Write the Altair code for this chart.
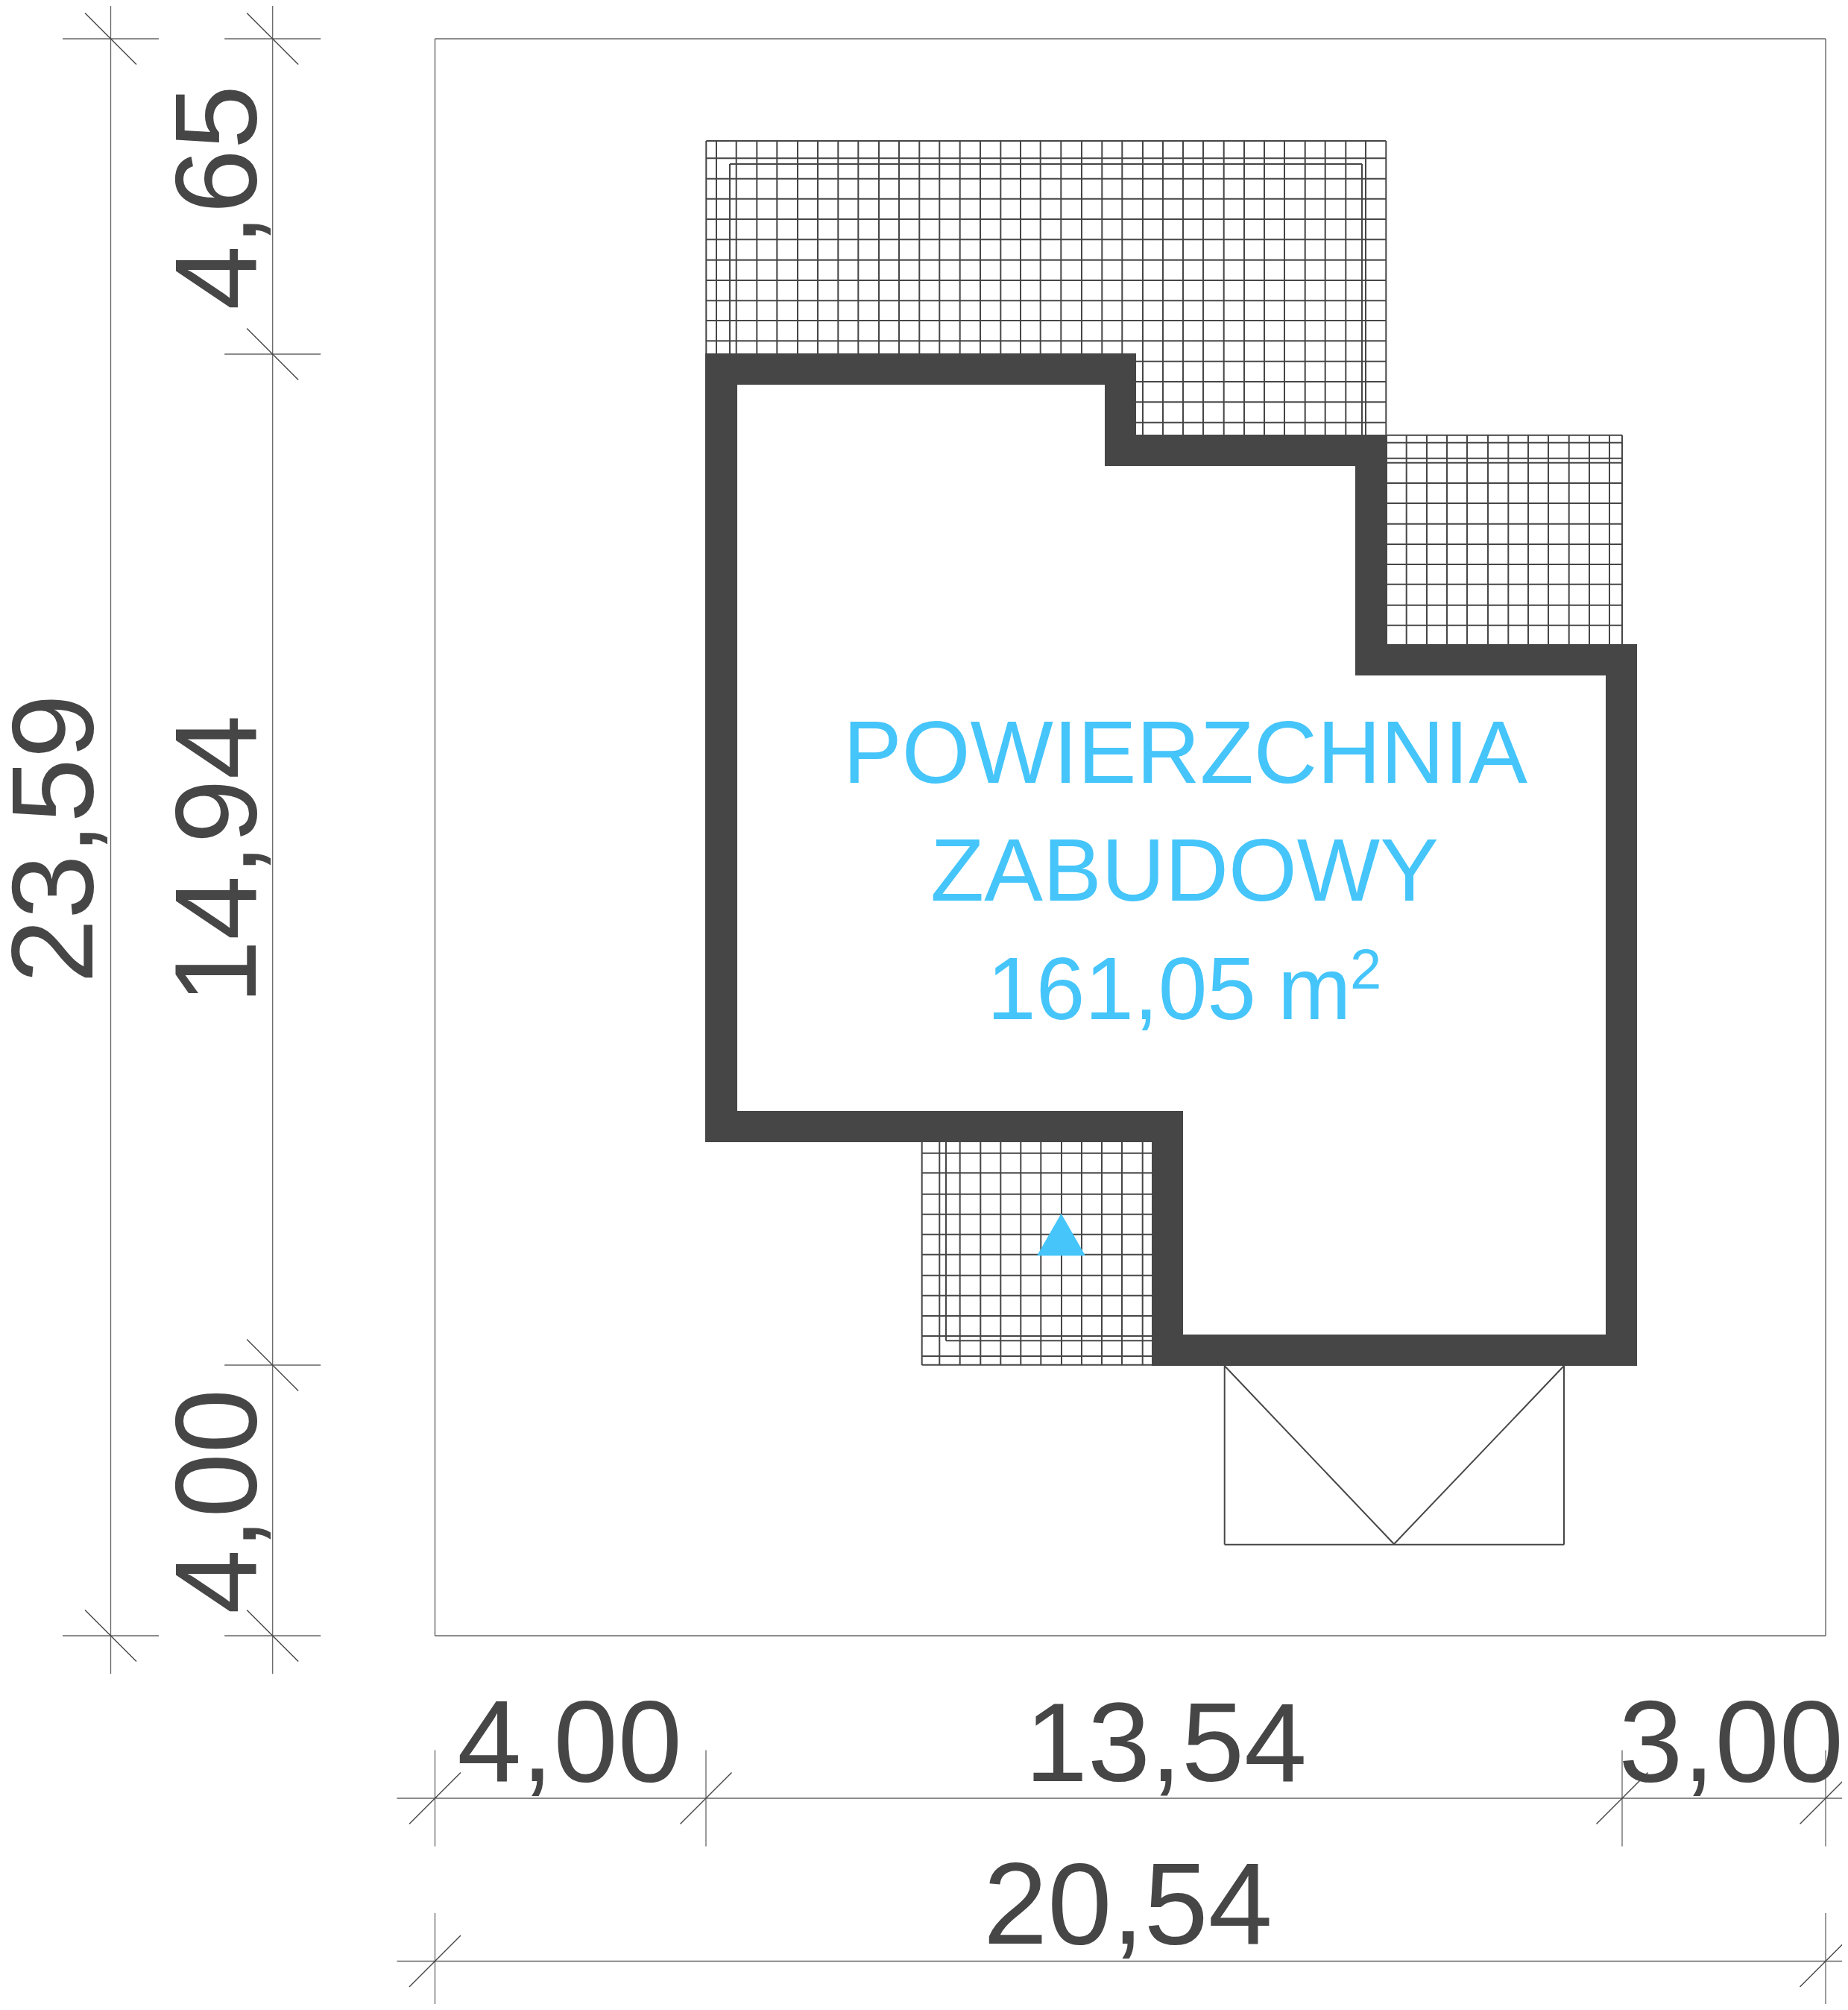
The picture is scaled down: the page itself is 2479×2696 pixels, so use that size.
import altair as alt
import pandas as pd

INK = "#464646"
THIN = "#666666"
BLUE = "#45c5fa"
FONT = "Liberation Sans"

# ---- drawing data, in the drawing's own units ----
upper_x_short = [947.3, 961, 987.7, 1015.3, 1042.3, 1070, 1097, 1124.3, 1151.3, 1179, 1206, 1233.3,
                 1260.3, 1287.7, 1315, 1342.3, 1369, 1395.7, 1423.3, 1451, 1478.3, 1505.3]
upper_x_long = [1533, 1560, 1587, 1614, 1641.7, 1669, 1696, 1723, 1750.7, 1777.7, 1805.3, 1832, 1859.3]
upper_y_short = [189, 212.3, 239.7, 266.7, 294, 321.3, 348.7, 376, 403.3, 430, 457.3]
upper_y_long = [484.7, 512, 539.3, 566.7]

right_x = [1886.7, 1914, 1941, 1968, 1996, 2023.3, 2050, 2077, 2104.7, 2132, 2159, 2176]
right_y = [583.7, 593.7, 614.7, 620.7, 648, 675, 702.7, 730, 757, 783.7, 811.7, 838.7]

lower_x = [1236.7, 1260.3, 1287.7, 1315.3, 1342.3, 1369.3, 1396.3, 1424, 1451, 1478, 1505, 1532.7]
lower_y = [1546.7, 1573.3, 1601.7, 1628.7, 1655.7, 1682.7, 1710.7, 1737.7, 1765, 1792, 1819, 1830.7]

roof_lines = [
    (979, 1827, 220, 220), (979, 979, 220, 474), (1827, 1827, 220, 583),
    (1269, 1269, 1532, 1798.3), (1269, 1545, 1798.3, 1798.3),
]
canopy_lines = [
    (1642.7, 2098, 2071.7, 2071.7), (1642.7, 1642.7, 1832, 2071.7), (2098, 2098, 1832, 2071.7),
    (1642.7, 1870, 1832, 2071), (2098, 1870, 1832, 2071),
]
wall_outer = [(946, 474), (1524, 474), (1524, 583), (1861, 583), (1861, 864), (2196, 864),
              (2196, 1832), (1545, 1832), (1545, 1532), (946, 1532), (946, 474)]
wall_inner = [(989, 516), (989, 1490), (1587, 1490), (1587, 1790), (2154, 1790), (2154, 906),
              (1818, 906), (1818, 625), (1482, 625), (1482, 516), (989, 516)]
site = [(583.5, 2449, 52, 52), (583.5, 2449, 2194, 2194), (583.5, 583.5, 52, 2194), (2449, 2449, 52, 2194)]

dim_verticals = [(148.5, 1, 2245), (365.7, 1, 2245)]
dim_horizontals = [(2412, 532.5, 2479), (2630.5, 532.5, 2479)]
left_marks = [(148.5, 52), (365.7, 52), (365.7, 475), (365.7, 1831), (148.5, 2194), (365.7, 2194)]
bottom_marks = [(583.5, 2412), (947, 2412), (2176, 2412), (2449, 2412), (583.5, 2630.5), (2449, 2630.5)]
tick_half = 64.5
slash_half = 34.5

entry_marker = [(1423.5, 1656)]

labels_h = [("4,00", 764, 2389), ("3,00", 2322, 2389), ("20,54", 1513, 2607)]
label_middle = [("13,54", 1564, 2389)]
labels_v = [("23,59", 124, 1125), ("14,94", 343, 1153), ("4,65", 343, 265), ("4,00", 343, 2014)]
title_lines = [("POWIERZCHNIA", 1590, 1050), ("ZABUDOWY", 1589, 1208)]
area_text = [("161,05", 1324, 1367), ("m", 1714, 1367)]
area_sup = [("2", 1811, 1326)]

# ---- tables ----
def seg(rows):
    return pd.DataFrame(rows, columns=["x", "x2", "y", "y2"])

hatch = []
hatch += [(x, x, 189, 474) for x in upper_x_short]
hatch += [(x, x, 189, 583) for x in upper_x_long]
hatch += [(947.3, 1859.3, y, y) for y in upper_y_short]
hatch += [(1524, 1859.3, y, y) for y in upper_y_long]
hatch += [(x, x, 583.7, 864) for x in right_x]
hatch += [(1861, 2176, y, y) for y in right_y]
hatch += [(x, x, 1532, 1831) for x in lower_x]
hatch += [(1236.7, 1545, y, y) for y in lower_y]
hatch += roof_lines + canopy_lines

dims = []
dims += [(x, x, a, b) for x, a, b in dim_verticals]
dims += [(a, b, y, y) for y, a, b in dim_horizontals]
for x, y in left_marks:
    dims.append((x - tick_half, x + tick_half, y, y))
for x, y in bottom_marks:
    dims.append((x, x, y - tick_half, y + tick_half))

slashes = []
for x, y in left_marks:
    slashes.append((x - slash_half, x + slash_half, y - slash_half, y + slash_half))
for x, y in bottom_marks:
    slashes.append((x - slash_half, x + slash_half, y + slash_half, y - slash_half))

W, H = 2463, 2680
X = alt.Scale(domain=[8, 8 + W], nice=False, zero=False)
Y = alt.Scale(domain=[8, 8 + H], nice=False, zero=False, reverse=True)

def enc(chart, two=True):
    kw = dict(
        x=alt.X("x:Q", scale=X, axis=None),
        y=alt.Y("y:Q", scale=Y, axis=None),
    )
    if two:
        kw["x2"] = "x2:Q"
        kw["y2"] = "y2:Q"
    return chart.encode(**kw)

def rules(rows, color, width):
    return enc(alt.Chart(seg(rows)).mark_rule(color=color, strokeWidth=width))

def texts(rows, **mk):
    df = pd.DataFrame(rows, columns=["t", "x", "y"])
    return enc(alt.Chart(df).mark_text(font=FONT, baseline="alphabetic", **mk), two=False).encode(text="t:N")

wall_feature = {
    "type": "Feature",
    "properties": {},
    "geometry": {"type": "Polygon",
                 "coordinates": [[list(p) for p in wall_outer], [list(p) for p in wall_inner]]},
}
wall_layer = alt.Chart(alt.Data(values=[wall_feature])).mark_geoshape(
    fill=INK, strokeWidth=0, stroke="transparent"
).project(type="identity", scale=1, translate=[-8, -8])

layers = [
    rules(site, THIN, 1.4),
    rules(dims, THIN, 1.3),
    rules(slashes, INK, 1.4),
    rules(hatch, INK, 2),
    wall_layer,
    enc(alt.Chart(pd.DataFrame(entry_marker, columns=["x", "y"])).mark_point(
        shape="triangle-up", size=4225, filled=True, color=BLUE, opacity=1, strokeWidth=0), two=False),
    texts(labels_h, fontSize=155, color=INK, align="center"),
    texts(label_middle, fontSize=151, color=INK, align="center"),
    texts(labels_v, fontSize=155, color=INK, align="center", angle=270),
    texts(title_lines, fontSize=118, color=BLUE, align="center"),
    texts(area_text, fontSize=118, color=BLUE, align="left"),
    texts(area_sup, fontSize=76, color=BLUE, align="left"),
]

chart = alt.layer(*layers).properties(
    width=W, height=H, padding=0,
    autosize=alt.AutoSizeParams(type="none"),
    background="white",
).configure_view(stroke=None)

chart.save("out.html", embed_options={"renderer": "svg", "actions": False})
